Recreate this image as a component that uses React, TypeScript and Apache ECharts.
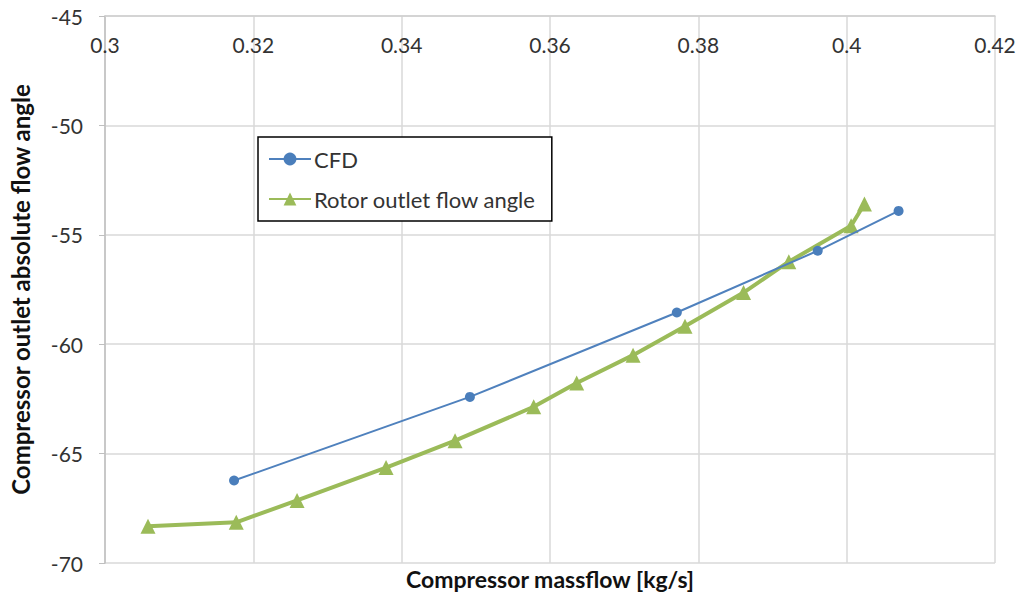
import React, { useEffect, useRef } from "react";
import * as echarts from "echarts";

const cfdX = [0.3174, 0.3492, 0.3771, 0.3961, 0.407];
const cfdY = [-66.23, -62.41, -58.55, -55.73, -53.91];
const rotorX = [0.3058, 0.3177, 0.3259, 0.3379, 0.3472, 0.3578, 0.3636, 0.3712, 0.3782, 0.3861, 0.3922, 0.4006, 0.4024];
const rotorY = [-68.32, -68.14, -67.14, -65.64, -64.41, -62.86, -61.77, -60.5, -59.18, -57.64, -56.23, -54.59, -53.59];
const seriesNames = ["CFD", "Rotor outlet flow angle"];
const xTitle = "Compressor massflow [kg/s]";
const yTitle = "Compressor outlet absolute flow angle";

const FONT = "Lato, 'Liberation Sans', sans-serif";

export default function App() {
  const ref = useRef<HTMLDivElement>(null);
  useEffect(() => {
    if (!ref.current) return;
    const chart = echarts.init(ref.current, null, { renderer: "svg" });
    chart.setOption({
      animation: false,
      backgroundColor: "#ffffff",
      textStyle: { fontFamily: FONT },
      grid: { left: 97, right: 27, top: 16, bottom: 35 },
      legend: {
        left: 258,
        top: 137,
        orient: "vertical",
        borderColor: "#000000",
        borderWidth: 1.5,
        padding: [11, 16, 11, 10],
        itemGap: 18,
        itemWidth: 42,
        itemHeight: 16,
        backgroundColor: "#ffffff",
        textStyle: { fontFamily: FONT, fontSize: 22, lineHeight: 22, color: "#333333", padding: [0, 0, 0, -2] },
        data: seriesNames,
      },
      xAxis: {
        type: "value",
        position: "top",
        min: 0.3,
        max: 0.42,
        interval: 0.02,
        name: xTitle,
        nameLocation: "middle",
        nameGap: -574,
        nameTextStyle: { fontFamily: FONT, fontSize: 23, fontWeight: "bold", color: "#111111" },
        axisLine: { show: true, lineStyle: { color: "#cfcfcf", width: 1.5 } },
        axisTick: { show: false },
        axisLabel: {
          inside: true,
          margin: 18,
          fontSize: 21,
          color: "#333333",
          fontFamily: FONT,
          formatter: (v: number) => String(+v.toFixed(2)),
        },
        splitLine: { show: true, lineStyle: { color: "#d9d9d9", width: 1.5 } },
      },
      yAxis: {
        type: "value",
        min: -70,
        max: -45,
        interval: 5,
        name: yTitle,
        nameLocation: "middle",
        nameGap: 73,
        nameRotate: 90,
        nameTextStyle: { fontFamily: FONT, fontSize: 24, fontWeight: "bold", color: "#111111" },
        axisLine: { show: true, lineStyle: { color: "#bfbfbf", width: 1.5 } },
        axisTick: { show: true, length: 6, lineStyle: { color: "#bfbfbf" } },
        axisLabel: { margin: 22, fontSize: 21, color: "#333333", fontFamily: FONT },
        splitLine: { show: true, lineStyle: { color: "#d9d9d9", width: 1.5 } },
      },
      series: [
        {
          name: seriesNames[0],
          type: "line",
          data: cfdX.map((x, i) => [x, cfdY[i]]),
          symbol: "circle",
          symbolSize: 10,
          lineStyle: { color: "#4f81bd", width: 2 },
          itemStyle: { color: "#4a7ebb" },
          z: 3,
        },
        {
          name: seriesNames[1],
          type: "line",
          data: rotorX.map((x, i) => [x, rotorY[i]]),
          symbol: "triangle",
          symbolSize: 15,
          lineStyle: { color: "#9bbb59", width: 4 },
          itemStyle: { color: "#9bbb59" },
          z: 2,
        },
      ],
    });
    return () => chart.dispose();
  }, []);
  return <div ref={ref} style={{ width: 1022, height: 598, position: "absolute", left: 0, top: 0 }} />;
}
